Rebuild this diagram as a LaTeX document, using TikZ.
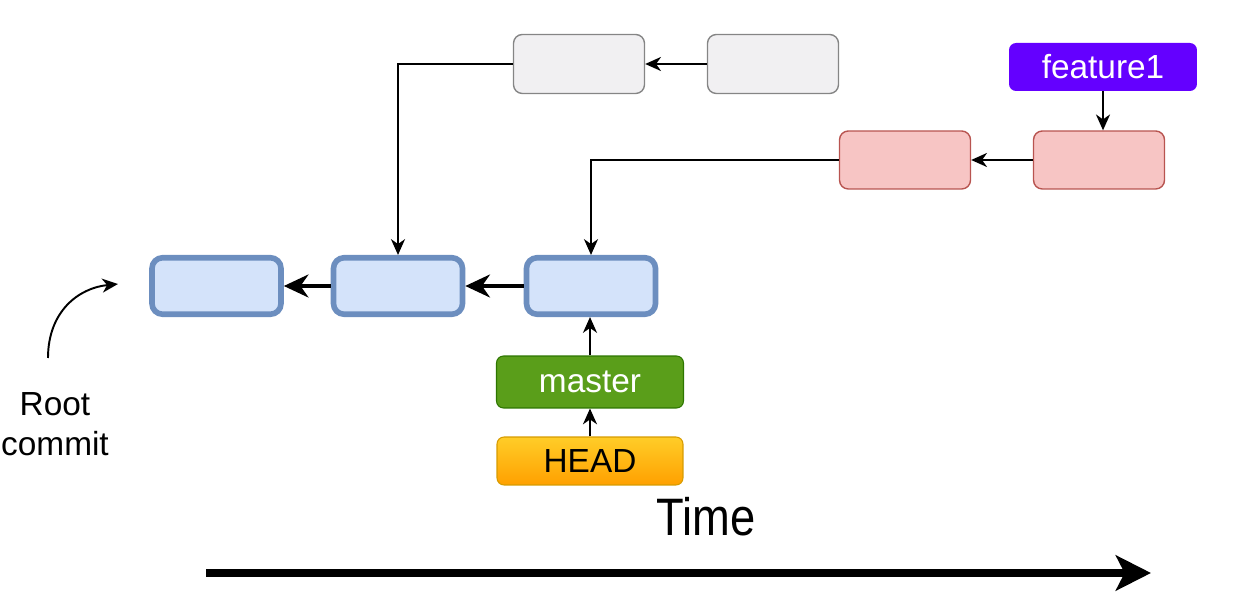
\documentclass[tikz,border=0pt]{standalone}
\usepackage{fontspec}
\setmainfont{Liberation Sans}
\usepackage{tikz}
\usetikzlibrary{arrows.meta}
\definecolor{commitfill}{HTML}{D4E3FA}
\definecolor{commitline}{HTML}{6C8EBF}
\definecolor{oldfill}{HTML}{F1F0F2}
\definecolor{oldline}{HTML}{858585}
\definecolor{featfill}{HTML}{F7C5C4}
\definecolor{featline}{HTML}{B85450}
\definecolor{branchviolet}{HTML}{6400FF}
\definecolor{masterfill}{HTML}{5A9E1A}
\definecolor{masterline}{HTML}{2D7600}
\definecolor{headline}{HTML}{D79B00}
\tikzset{
  labelfont/.style={font=\fontsize{19}{22.7}\selectfont},
  commit/.style={draw=commitline, fill=commitfill, line width=3.2pt, rounded corners=6pt,
    minimum width=2.58cm, minimum height=1.13cm, inner sep=0pt},
  oldcommit/.style={draw=oldline, fill=oldfill, line width=0.8pt, rounded corners=5pt,
    minimum width=2.62cm, minimum height=1.18cm, inner sep=0pt},
  featcommit/.style={draw=featline, fill=featfill, line width=0.8pt, rounded corners=5pt,
    minimum width=2.62cm, minimum height=1.16cm, inner sep=0pt},
  branch/.style={labelfont, rounded corners=4pt, inner sep=0pt, minimum height=0.96cm},
  conn/.style={-{Stealth[length=9pt,width=8pt,inset=2.8pt]}, line width=1.1pt},
  thickconn/.style={-{Stealth[length=14pt,width=13pt,inset=4.5pt]}, line width=2.5pt}
}
\begin{document}
\begin{tikzpicture}[x=0.02cm, y=-0.02cm]
  \useasboundingbox (0,0) rectangle (1241,597);
  % commits on master
  \node[commit] (c1) at (216.5,286) {};
  \node[commit] (c2) at (398,286) {};
  \node[commit] (c3) at (591,286) {};
  \draw[thickconn] (c2.west) -- (c1.east);
  \draw[thickconn] (c3.west) -- (c2.east);
  % grey commits
  \node[oldcommit] (g1) at (579,64) {};
  \node[oldcommit] (g2) at (773,64) {};
  \draw[conn] (g2.west) -- (g1.east);
  \draw[conn] (g1.west) -| (c2.north);
  % feature commits
  \node[featcommit] (r1) at (905,160) {};
  \node[featcommit] (r2) at (1099,160) {};
  \draw[conn] (r2.west) -- (r1.east);
  \draw[conn] (r1.west) -| (c3.north);
  % branches
  \node[branch, fill=branchviolet, text=white, minimum width=3.76cm] (feat) at (1103,67) {feature1};
  \draw[conn] (feat.south) -- (feat.south |- r2.north);
  \node[branch, draw=masterline, fill=masterfill, text=white, line width=0.6pt,
    minimum width=3.74cm, minimum height=1.04cm] (master) at (590,382) {master};
  \draw[conn] (master.north) -- (master.north |- c3.south);
  \node[branch, draw=headline, top color={rgb,255:red,255;green,205;blue,40},
    bottom color={rgb,255:red,255;green,160;blue,0}, line width=0.6pt,
    minimum width=3.72cm] (head) at (590,461) {HEAD};
  \draw[conn] (head.north) -- (master.south);
  % root commit
  \node[labelfont, align=center] (root) at (55,424) {Root\\commit};
  \coordinate (roottip) at (118,284);
  \draw[conn] (48,358) .. controls (48,312) and (78,288) .. (roottip);
  % time axis
  \node[font=\fontsize{30}{36}\selectfont] (time) at (706,517) {\scalebox{0.86}[1]{Time}};
  \coordinate (tstart) at (206,573);
  \coordinate (tend) at (1151,573);
  \draw[-{Stealth[length=20pt,width=20pt,inset=5pt]}, line width=4.5pt] (tstart) -- (tend);
\end{tikzpicture}
\end{document}
